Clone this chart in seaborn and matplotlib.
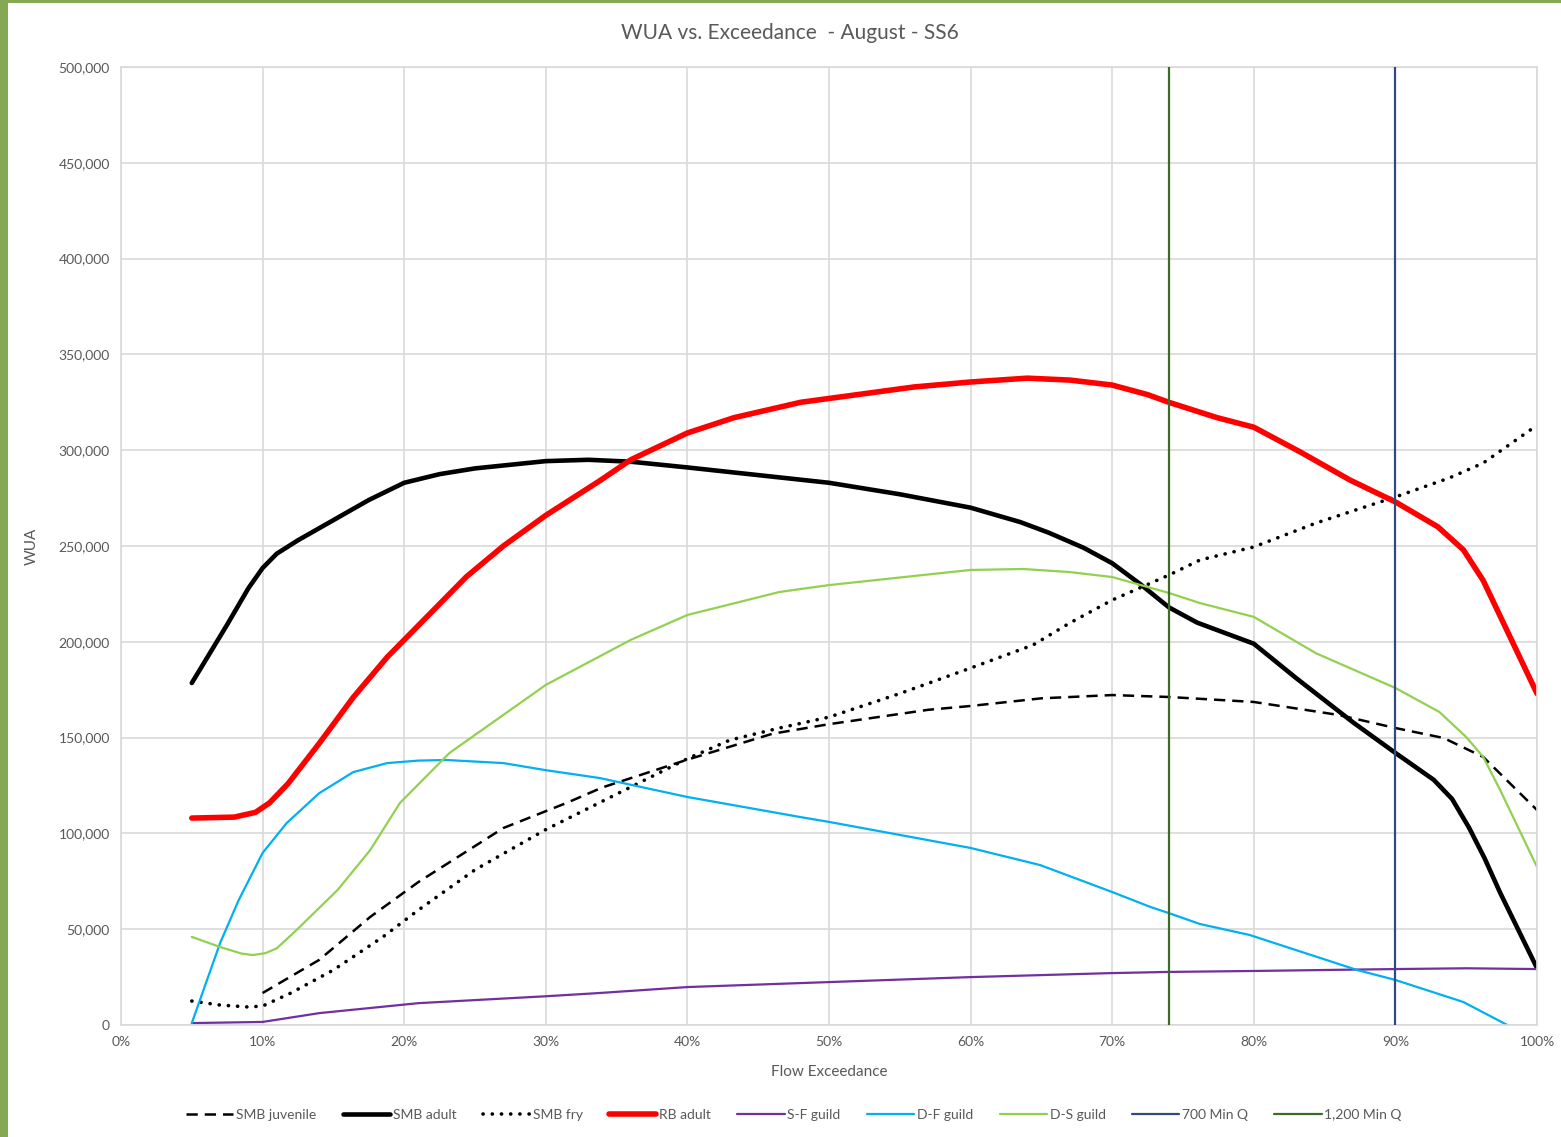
import matplotlib
matplotlib.use("Agg")
import matplotlib.pyplot as plt
from matplotlib.patches import Rectangle
from matplotlib.ticker import FuncFormatter
import seaborn as sns
import pandas as pd

# ---------------- data ----------------
smb_juv_x = [10, 14, 17.6, 21, 27, 31.5, 34, 40, 46, 50, 57, 60, 65, 70, 74, 80, 86, 90, 93.4, 96.2, 100]
smb_juv_y = [16700, 34000, 56400, 74600, 102800, 116000, 124000, 138500, 152000, 157000, 164500, 166500,
             170500, 172200, 171200, 168600, 161800, 155000, 149800, 139900, 112200]

smb_adult_x = [5, 7.5, 9, 10, 11, 12.5, 15, 17.5, 20, 22.5, 25, 30, 33, 36, 40, 45, 50, 55, 60, 63.5, 65.5,
               68, 70, 72, 74, 76, 80, 83, 87, 90, 92.7, 94, 95.2, 96.3, 97.4, 100]
smb_adult_y = [178500, 209000, 228000, 238500, 246000, 253000, 263500, 274000, 283000, 287500, 290500,
               294300, 295000, 294000, 291000, 287000, 283000, 277000, 270000, 262500, 257000, 249000,
               241000, 230000, 218000, 210000, 199000, 181000, 158000, 142000, 128000, 118000, 103000,
               87000, 69000, 29700]

smb_fry_x = [5, 7, 9, 10, 12, 15, 18.5, 21, 25, 30, 36, 40, 43, 46.5, 50, 55, 60, 64.4, 67, 70, 74,
             76.2, 80, 84.4, 90, 93.8, 96.2, 100]
smb_fry_y = [12500, 10400, 9400, 9900, 16700, 28700, 46000, 60000, 81000, 102000, 124200, 139000,
             148700, 155000, 160700, 173000, 186300, 198300, 209800, 221800, 234800, 242700, 249500,
             262000, 275600, 285500, 293300, 313000]

rb_adult_x = [5, 8, 9.5, 10.5, 11.8, 14, 16.4, 18.8, 20, 22, 24.4, 27, 30, 33.8, 36, 40, 43.3, 48, 50, 56,
              60, 64, 67, 70, 72.5, 74, 77.4, 80, 83.3, 86.8, 90, 93, 94.8, 96.2, 100]
rb_adult_y = [108000, 108500, 111000, 116000, 126000, 147000, 171000, 192000, 201000, 216000, 234000,
              250000, 266000, 284000, 295000, 309000, 317000, 325000, 327000, 333000, 335600, 337600,
              336600, 334000, 329000, 325000, 317000, 312000, 299000, 284400, 273000, 260000, 248000,
              232000, 173000]

sf_guild_x = [5, 10, 14, 21, 30, 33.8, 40, 50, 60, 70, 74, 80, 90, 95, 100]
sf_guild_y = [1000, 1600, 6200, 11400, 15000, 16700, 19800, 22400, 25000, 27100, 27700, 28200, 29200,
              29600, 29200]

df_guild_x = [5, 7, 8.3, 10, 11.7, 14, 16.4, 18.8, 21, 23, 27, 30, 33.8, 40, 48, 50, 60, 64.9, 70, 72.7,
              74, 76.2, 79.7, 87.3, 90, 94.8, 97.9, 100]
df_guild_y = [1000, 42800, 65000, 89800, 105400, 121000, 132000, 136700, 138000, 138300, 136700,
              133000, 128900, 119000, 108500, 106000, 92400, 83500, 69400, 61600, 58400, 52700, 47000,
              28700, 23500, 12000, 0, -9000]

ds_guild_x = [5, 7, 8.5, 9.3, 10.2, 11, 12.4, 15.3, 17.6, 19.7, 23.2, 30, 36, 40, 46.5, 50, 60, 63.7, 67,
              70, 74, 76.2, 80, 84.4, 90, 93.1, 95, 96.2, 97.4, 100]
ds_guild_y = [46000, 40700, 37300, 36500, 37500, 40000, 49600, 70500, 91300, 115900, 142000, 177500,
              201000, 214000, 226000, 229600, 237500, 238000, 236400, 233800, 225500, 220200, 213000,
              194000, 175900, 163400, 150300, 139900, 122600, 82500]

min_q_700 = 90     # exceedance (%)
min_q_1200 = 74    # exceedance (%)

x_ticks = list(range(0, 101, 10))
y_ticks = list(range(0, 500001, 50000))

title = "WUA vs. Exceedance  - August - SS6"
x_label = "Flow Exceedance"
y_label = "WUA"

# ---------------- styling ----------------
sns.set_theme(style="white")
plt.rcParams["font.family"] = ["Lato", "DejaVu Sans"]
TXT = "#595959"
GRID = "#d9d9d9"

fig = plt.figure(figsize=(15.61, 11.37), dpi=100)
fig.patch.set_facecolor("#84a853")
fig.add_artist(Rectangle((8 / 1561, 0), 1 - 8 / 1561, 1 - 3 / 1137,
                         transform=fig.transFigure, facecolor="white", edgecolor="none", zorder=-5))

ax = fig.add_axes([121 / 1561, (1137 - 1025) / 1137, (1537 - 121) / 1561, (1025 - 67) / 1137])
ax.set_facecolor("white")

series = [
    ("SMB juvenile", smb_juv_x, smb_juv_y, dict(color="black", lw=1.8, ls=(0, (4.5, 2.8)))),
    ("SMB adult", smb_adult_x, smb_adult_y, dict(color="black", lw=3.3, ls="-")),
    ("SMB fry", smb_fry_x, smb_fry_y, dict(color="black", lw=2.6, ls=(0, (0.05, 2.5)),
                                           dash_capstyle="round")),
    ("RB adult", rb_adult_x, rb_adult_y, dict(color="#ff0000", lw=4.0, ls="-")),
    ("S-F guild", sf_guild_x, sf_guild_y, dict(color="#7030a0", lw=1.6, ls="-")),
    ("D-F guild", df_guild_x, df_guild_y, dict(color="#00b0f0", lw=1.6, ls="-")),
    ("D-S guild", ds_guild_x, ds_guild_y, dict(color="#92d050", lw=1.6, ls="-")),
]

for name, xs, ys, st in series:
    df = pd.DataFrame({"x": xs, "y": ys})
    kw = dict(st)
    ls = kw.pop("ls")
    sns.lineplot(data=df, x="x", y="y", ax=ax, label=name, sort=False, estimator=None,
                 linestyle=ls, linewidth=kw.pop("lw"), solid_joinstyle="round", **kw)

ax.axvline(min_q_700, color="#2f4a80", lw=1.6, label="700 Min Q", zorder=3)
ax.axvline(min_q_1200, color="#3d6b2a", lw=1.6, label="1,200 Min Q", zorder=3)

ax.set_xlim(0, 100)
ax.set_ylim(0, 500000)
ax.set_xticks(x_ticks)
ax.set_yticks(y_ticks)
ax.xaxis.set_major_formatter(FuncFormatter(lambda v, p: f"{int(v)}%"))
ax.yaxis.set_major_formatter(FuncFormatter(lambda v, p: f"{int(v):,}"))
ax.tick_params(axis="both", colors=TXT, labelsize=10, length=0, pad=8)
ax.grid(True, color=GRID, lw=1.2)
ax.set_axisbelow(True)
for s in ax.spines.values():
    s.set_color(GRID)
    s.set_linewidth(1.2)

ax.set_xlabel(x_label, color=TXT, fontsize=11, labelpad=12)
ax.set_ylabel(y_label, color=TXT, fontsize=11, labelpad=14)
fig.text(790 / 1561, 1 - 33 / 1137, title, ha="center", va="center", color=TXT, fontsize=15)

handles, labels = ax.get_legend_handles_labels()
ax.legend(handles, labels, loc="center", bbox_to_anchor=(794 / 1561, 1 - 1115 / 1137),
          bbox_transform=fig.transFigure, ncol=9, frameon=False, fontsize=10,
          labelcolor=TXT, handlelength=3.4, handletextpad=0.2, columnspacing=1.9)

fig.savefig("out.png", dpi=100, facecolor=fig.get_facecolor())
